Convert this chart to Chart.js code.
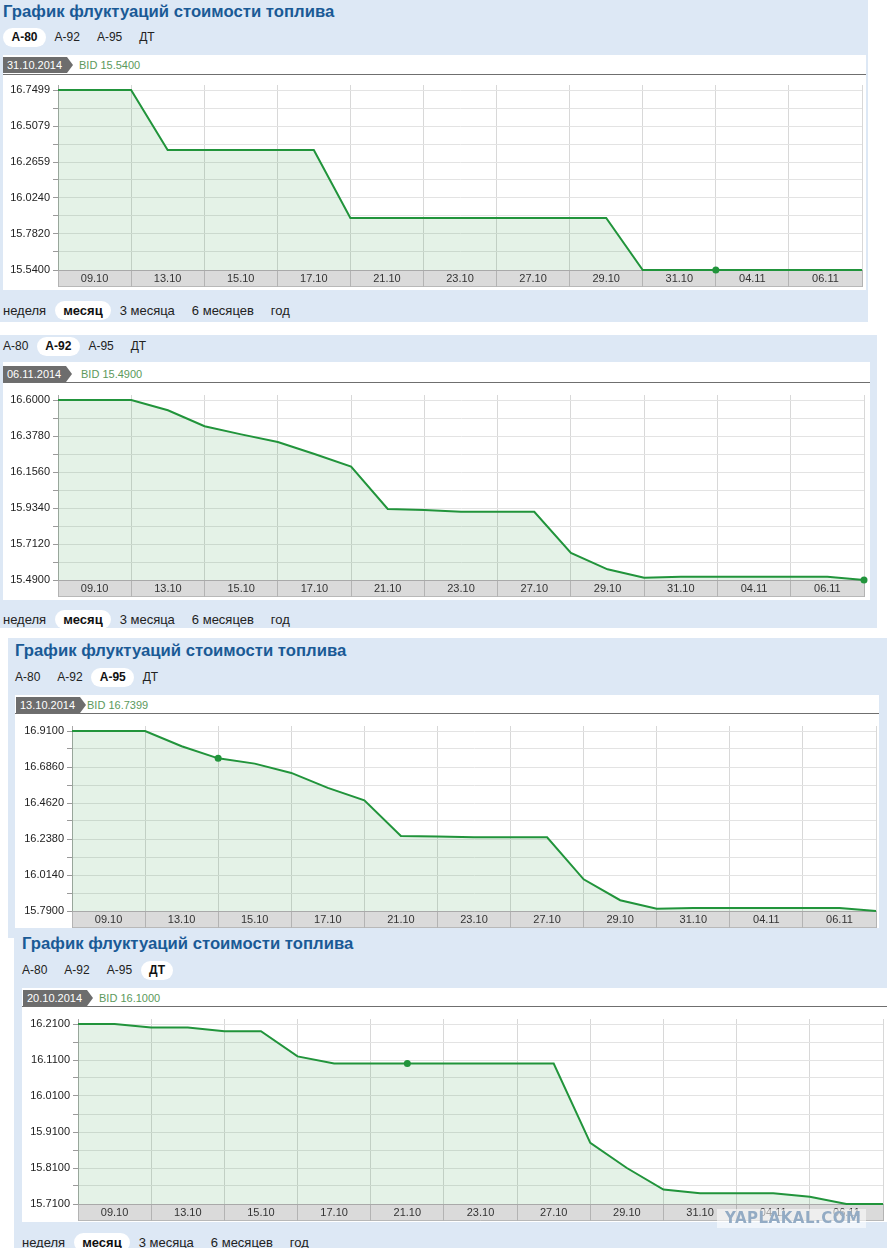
<!DOCTYPE html>
<html lang="ru">
<head>
    <meta charset="UTF-8">
    <title>График флуктуаций стоимости топлива</title>
    <script src="https://cdn.jsdelivr.net/npm/chart.js"></script>
    <style>
        body { margin: 0; background: #fff; font-family: 'Liberation Sans', Arial, sans-serif; }
        #page { position: relative; width: 887px; height: 1248px; overflow: hidden; }
        #page > div { position: absolute; }
        .panel { background: #dde8f5; }
        .title { font-size: 16.7px; line-height: 16px; font-weight: bold; color: #1a5a96; white-space: nowrap; }
        .tabs { font-size: 12px; height: 19px; line-height: 19px; color: #222; white-space: nowrap; }
        .tabs span { display: inline-block; padding: 0 8.5px; }
        .tabs span.on { background: #fff; border-radius: 10px; font-weight: bold; color: #111; }
        .tabs.period { font-size: 13px; }
        .box { background: #fff; }
        .tag { height: 16px; line-height: 16px; background: #6d6d6d; color: #fff; font-size: 11px; padding: 0 5px 0 4px; }
        .tag::after { content: ''; position: absolute; right: -6px; top: 0; border-left: 6px solid #6d6d6d; border-top: 8px solid transparent; border-bottom: 8px solid transparent; }
        .bid { font-size: 11px; line-height: 16px; color: #5c995c; }
        .hline { height: 1px; background: #6f6f6f; }
        .mark { font-family: 'DejaVu Sans', sans-serif; font-weight: bold; font-size: 15px; line-height: 19px; letter-spacing: 0.5px; color: #93abc4; background: rgba(255,255,255,0.55); padding: 0 5px 0 8px; }
    </style>
</head>
<body>
<div id="page">
    <!-- А-80 -->
    <div class="panel" style="left:0;top:0;width:868px;height:322px"></div>
    <div class="title" style="left:3px;top:4px">График флуктуаций стоимости топлива</div>
    <div class="tabs" style="left:3px;top:28px"><span class="on">А-80</span><span>А-92</span><span>А-95</span><span>ДТ</span></div>
    <div class="box" style="left:3px;top:55px;width:863px;height:235px"></div>
    <div class="tag" style="left:3px;top:57px">31.10.2014</div>
    <div class="bid" style="left:79px;top:57px">BID 15.5400</div>
    <div class="hline" style="left:3px;top:74px;width:863px"></div>
    <div style="left:3px;top:75px;width:863px;height:213px"><canvas id="chartA80"></canvas></div>
    <div class="tabs period" style="left:-5.5px;top:301px"><span>неделя</span><span class="on">месяц</span><span>3 месяца</span><span>6 месяцев</span><span>год</span></div>

    <!-- А-92 -->
    <div class="panel" style="left:0;top:335px;width:877px;height:293px"></div>
    <div class="tabs" style="left:-5.5px;top:337px"><span>А-80</span><span class="on">А-92</span><span>А-95</span><span>ДТ</span></div>
    <div class="box" style="left:3px;top:362px;width:867px;height:238px"></div>
    <div class="tag" style="left:3px;top:366px">06.11.2014</div>
    <div class="bid" style="left:81px;top:366px">BID 15.4900</div>
    <div class="hline" style="left:3px;top:382px;width:867px"></div>
    <div style="left:3px;top:383px;width:867px;height:215px"><canvas id="chartA92"></canvas></div>
    <div class="tabs period" style="left:-5.5px;top:610px"><span>неделя</span><span class="on">месяц</span><span>3 месяца</span><span>6 месяцев</span><span>год</span></div>

    <!-- А-95 -->
    <div class="panel" style="left:8px;top:638px;width:879px;height:300px"></div>
    <div class="title" style="left:15px;top:643px">График флуктуаций стоимости топлива</div>
    <div class="tabs" style="left:6.5px;top:668px"><span>А-80</span><span>А-92</span><span class="on">А-95</span><span>ДТ</span></div>
    <div class="box" style="left:15px;top:695px;width:864px;height:240px"></div>
    <div class="tag" style="left:16px;top:697px">13.10.2014</div>
    <div class="bid" style="left:87px;top:697px">BID 16.7399</div>
    <div class="hline" style="left:15px;top:713px;width:864px"></div>
    <div style="left:15px;top:714px;width:864px;height:215px"><canvas id="chartA95"></canvas></div>

    <!-- ДТ -->
    <div class="panel" style="left:14px;top:928px;width:873px;height:320px"></div>
    <div class="title" style="left:22px;top:936px">График флуктуаций стоимости топлива</div>
    <div class="tabs" style="left:13.5px;top:961px"><span>А-80</span><span>А-92</span><span>А-95</span><span class="on">ДТ</span></div>
    <div class="box" style="left:22px;top:988px;width:865px;height:234px"></div>
    <div class="tag" style="left:23px;top:990px">20.10.2014</div>
    <div class="bid" style="left:99px;top:990px">BID 16.1000</div>
    <div class="hline" style="left:22px;top:1006px;width:865px"></div>
    <div style="left:22px;top:1007px;width:865px;height:215px"><canvas id="chartDT"></canvas></div>
    <div class="tabs period" style="left:13.5px;top:1233px"><span>неделя</span><span class="on">месяц</span><span>3 месяца</span><span>6 месяцев</span><span>год</span></div>
    <div class="mark" style="left:717px;top:1209px">YAPLAKAL.COM</div>
</div>

<script>
    // Date labels shown in the grey band, one per two trading days
    const dateLabels = ['09.10', '13.10', '15.10', '17.10', '21.10', '23.10', '27.10', '29.10', '31.10', '04.11', '06.11'];

    // Daily prices, 23 trading days (index 0..22)
    const a80Values = [16.7499, 16.7499, 16.7499, 16.3466, 16.3466, 16.3466, 16.3466, 16.3466,
        15.8895, 15.8895, 15.8895, 15.8895, 15.8895, 15.8895, 15.8895, 15.8895,
        15.5400, 15.5400, 15.5400, 15.5400, 15.5400, 15.5400, 15.5400];
    const a92Values = [16.6000, 16.6000, 16.6000, 16.5370, 16.4380, 16.3880, 16.3410, 16.2670,
        16.1890, 15.9280, 15.9220, 15.9110, 15.9110, 15.9110, 15.6570, 15.5560,
        15.5040, 15.5100, 15.5100, 15.5100, 15.5100, 15.5100, 15.4900];
    const a95Values = [16.9100, 16.9100, 16.9100, 16.8150, 16.7399, 16.7070, 16.6490, 16.5560,
        16.4790, 16.2570, 16.2530, 16.2490, 16.2490, 16.2490, 15.9870, 15.8570,
        15.8045, 15.8090, 15.8090, 15.8090, 15.8090, 15.8090, 15.7900];
    const dtValues = [16.2100, 16.2100, 16.2000, 16.2000, 16.1900, 16.1900, 16.1200, 16.1000,
        16.1000, 16.1000, 16.1000, 16.1000, 16.1000, 16.1000, 15.8800, 15.8100,
        15.7500, 15.7400, 15.7400, 15.7400, 15.7300, 15.7100, 15.7100];

    // Labelled y ticks, bottom to top
    const a80Ticks = [15.5400, 15.7820, 16.0240, 16.2659, 16.5079, 16.7499];
    const a92Ticks = [15.4900, 15.7120, 15.9340, 16.1560, 16.3780, 16.6000];
    const a95Ticks = [15.7900, 16.0140, 16.2380, 16.4620, 16.6860, 16.9100];
    const dtTicks = [15.7100, 15.8100, 15.9100, 16.0100, 16.1100, 16.2100];

    // Highlighted point (the one from the date tag)
    const a80Mark = 18;
    const a92Mark = 22;
    const a95Mark = 4;
    const dtMark = 9;

    const lineColor = '#21943b';
    const fillColor = 'rgba(30, 150, 60, 0.12)';

    Chart.defaults.font.family = "'Liberation Sans', Arial, sans-serif";
    Chart.defaults.font.size = 11;

    // Grey band under the plot, where the dates sit
    const bandPlugin = {
        id: 'band',
        beforeDraw(chart) {
            const { ctx, chartArea: a } = chart;
            const h = chart.scales.x.height;
            ctx.save();
            ctx.fillStyle = '#dadada';
            ctx.fillRect(a.left, a.bottom, a.right - a.left, h);
            ctx.strokeStyle = '#b8b8b8';
            ctx.lineWidth = 1;
            ctx.beginPath();
            ctx.moveTo(a.left, a.bottom + h - 0.5);
            ctx.lineTo(a.right, a.bottom + h - 0.5);
            ctx.stroke();
            ctx.restore();
        }
    };

    function makeChart(id, values, yTicks, markIndex, yAxisWidth, padTop, padRight) {
        const canvas = document.getElementById(id);
        const plotWidth = canvas.parentNode.clientWidth - yAxisWidth - padRight;
        const lastIndex = values.length - 1;

        // labelled ticks plus the unlabelled ones half way between them
        const allTicks = [];
        yTicks.forEach((t, i) => {
            allTicks.push(t);
            if (i < yTicks.length - 1) allTicks.push((t + yTicks[i + 1]) / 2);
        });
        const lo = yTicks[0];
        const hi = yTicks[yTicks.length - 1];

        const xTicks = [];
        for (let i = 0; i <= lastIndex; i += 2) xTicks.push({ value: i });

        return new Chart(canvas, {
            type: 'line',
            data: {
                datasets: [{
                    data: values.map((v, i) => ({ x: i, y: v })),
                    borderColor: lineColor,
                    backgroundColor: fillColor,
                    borderWidth: 2,
                    fill: 'start',
                    tension: 0,
                    clip: false,
                    pointRadius: c => c.dataIndex === markIndex ? 3.5 : 0,
                    pointBackgroundColor: lineColor,
                    pointBorderWidth: 0
                }]
            },
            options: {
                responsive: true,
                maintainAspectRatio: false,
                animation: false,
                events: [],
                layout: { padding: { top: padTop, right: padRight, bottom: 1, left: 0 } },
                plugins: { legend: { display: false }, tooltip: { enabled: false } },
                scales: {
                    x: {
                        type: 'linear',
                        min: 0,
                        max: lastIndex,
                        afterBuildTicks: s => { s.ticks = xTicks.slice(); },
                        afterFit: s => { s.height = 17; },
                        grid: { color: '#d8d8d8', tickColor: '#b3b3b3', tickLength: 17 },
                        border: { color: '#a9a9a9' },
                        ticks: {
                            autoSkip: false,
                            maxRotation: 0,
                            padding: -15,
                            labelOffset: plotWidth / lastIndex,
                            color: '#333',
                            callback: v => dateLabels[v / 2] || ''
                        }
                    },
                    y: {
                        min: lo,
                        max: hi + (hi - lo) / 36,
                        afterBuildTicks: s => { s.ticks = allTicks.map(v => ({ value: v })); },
                        afterFit: s => { s.width = yAxisWidth; },
                        grid: { color: '#e3e3e3', tickColor: '#9a9a9a', tickLength: 5 },
                        border: { color: '#a9a9a9' },
                        ticks: {
                            padding: 3,
                            color: '#222',
                            callback: (v, i) => i % 2 === 0 ? v.toFixed(4) : ''
                        }
                    }
                }
            },
            plugins: [bandPlugin]
        });
    }

    makeChart('chartA80', a80Values, a80Ticks, a80Mark, 55, 10, 4);
    makeChart('chartA92', a92Values, a92Ticks, a92Mark, 55, 12, 6);
    makeChart('chartA95', a95Values, a95Ticks, a95Mark, 57, 12, 3);
    makeChart('chartDT', dtValues, dtTicks, dtMark, 56, 12, 4);
</script>
</body>
</html>
